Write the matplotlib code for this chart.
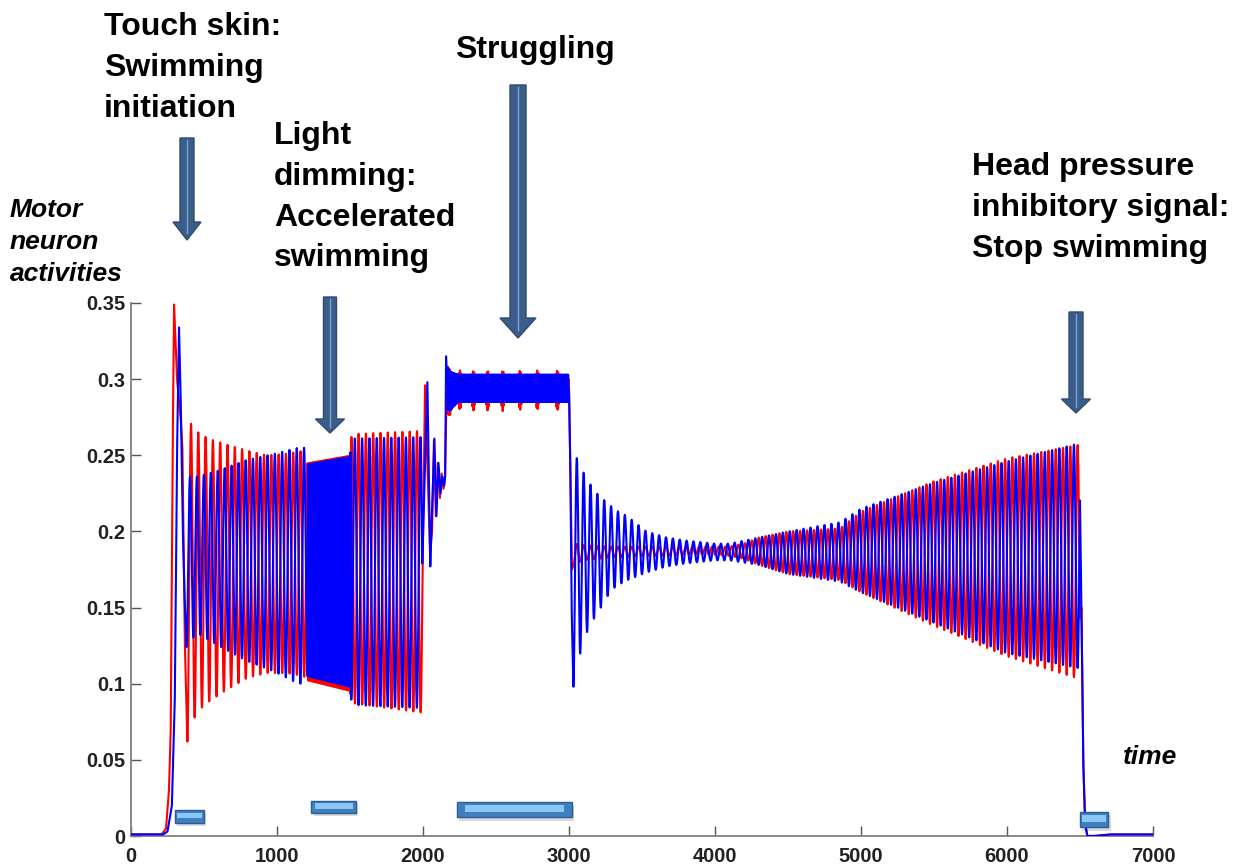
import numpy as np
import matplotlib
matplotlib.use('Agg')
import matplotlib.pyplot as plt
from matplotlib.patches import Polygon, Rectangle

plt.rcParams['font.family'] = ['Liberation Sans', 'DejaVu Sans']

# ---- data ----------------------------------------------------------------
dt = 0.5
t = np.arange(0, 7000 + dt, dt)

# oscillation periods (time units) per series
red_pt = [0, 1207, 1208, 1508, 1509, 2168, 2169, 3002, 3003, 3700, 3701, 4200, 4201, 6500, 7000]
red_pv = [50, 50, 12, 12, 50, 50, 8, 8, 47, 47, 44.9, 44.9, 47, 50, 50]
blue_pt = [0, 760, 761, 1207, 1208, 1508, 1509, 2168, 2169, 3002, 3003, 4200, 6500, 7000]
blue_pv = [47.5, 47.5, 50, 50, 12, 12, 50, 50, 8, 8, 47, 47, 50, 50]

# envelope (upper / lower) of the oscillating parts
red_env_t = [386, 420, 445, 530, 655, 800, 930, 1066, 1180, 1207, 1208, 1500, 1510, 1530, 1995,
             2170, 2185, 2210, 2231, 2253, 2275, 2323, 2345, 2367, 2421, 2443, 2465, 2524, 2546,
             2568, 2642, 2664, 2686, 2761, 2783, 2805, 2898, 2920, 2942, 3000,
             3030, 3100, 3300, 3600, 3900, 4100, 4200, 4300, 4500, 4856, 5000, 5500, 6000, 6500]
red_env_hi = [0.270, 0.271, 0.266, 0.261, 0.257, 0.253, 0.250, 0.251, 0.253, 0.253, 0.245, 0.250, 0.263, 0.264, 0.266,
              0.308, 0.306, 0.300, 0.300, 0.306, 0.300, 0.300, 0.306, 0.300, 0.300, 0.306, 0.300, 0.300, 0.306,
              0.300, 0.300, 0.306, 0.300, 0.300, 0.306, 0.300, 0.300, 0.306, 0.300, 0.300,
              0.192, 0.191, 0.190, 0.190, 0.190, 0.190, 0.192, 0.196, 0.200, 0.202, 0.213, 0.233, 0.248, 0.257]
red_env_lo = [0.062, 0.072, 0.081, 0.088, 0.096, 0.104, 0.107, 0.107, 0.105, 0.103, 0.102, 0.095, 0.088, 0.087, 0.081,
              0.277, 0.276, 0.288, 0.289, 0.279, 0.289, 0.289, 0.279, 0.289, 0.289, 0.279, 0.289, 0.289, 0.279,
              0.289, 0.289, 0.279, 0.289, 0.289, 0.279, 0.289, 0.289, 0.279, 0.289, 0.289,
              0.178, 0.181, 0.183, 0.184, 0.185, 0.184, 0.182, 0.178, 0.172, 0.168, 0.160, 0.138, 0.118, 0.103]

blue_env_t = [380, 404, 457, 600, 792, 981, 1144, 1207, 1208, 1500, 1510, 1530, 1995,
              2170, 2185, 2210, 2240, 3000,
              3030, 3048, 3072, 3098, 3146, 3200, 3260, 3320, 3400, 3530, 3670, 3800, 4000, 4100,
              4300, 4500, 4856, 5000, 5500, 6000, 6500]
blue_env_hi = [0.236, 0.236, 0.236, 0.240, 0.247, 0.251, 0.255, 0.255, 0.244, 0.249, 0.261, 0.261, 0.262,
               0.308, 0.305, 0.304, 0.303, 0.303,
               0.249, 0.249, 0.245, 0.239, 0.231, 0.224, 0.219, 0.214, 0.210, 0.200, 0.196, 0.194, 0.192, 0.192,
               0.196, 0.200, 0.206, 0.215, 0.232, 0.246, 0.258]
blue_env_lo = [0.124, 0.128, 0.133, 0.125, 0.115, 0.108, 0.100, 0.100, 0.105, 0.098, 0.088, 0.086, 0.084,
               0.280, 0.279, 0.282, 0.285, 0.285,
               0.098, 0.110, 0.118, 0.128, 0.139, 0.147, 0.157, 0.164, 0.168, 0.173, 0.177, 0.179, 0.181, 0.181,
               0.178, 0.172, 0.167, 0.160, 0.140, 0.120, 0.110]

# oscillating windows and the phase (in cycles, 0 = peak) at one anchor time
red_windows = [(386, 1995), (2170, 3000), (3030, 6500)]
red_anchors = [(386, 0.5), (2170, 0.5), (3030, 0.5)]
blue_windows = [(380, 1995), (2170, 3000), (3030, 6500)]
blue_anchors = [(404, 0.0), (2170, 0.0), (3030, 0.5)]

# non-oscillating stretches (onset, transitions, offset)
red_tr_t = [0, 210, 240, 260, 272, 285, 295, 315, 340, 352, 368,
            2014, 2035, 2048, 2062, 2075, 2088, 2102, 2116, 2128, 2140, 2150, 2160, 2166,
            3010, 3020, 6510, 6522, 6535, 6550, 6600, 6700, 7000]
red_tr_v = [0.001, 0.001, 0.005, 0.03, 0.07, 0.25, 0.349, 0.30, 0.275, 0.255, 0.13,
            0.296, 0.23, 0.186, 0.20, 0.26, 0.21, 0.245, 0.222, 0.238, 0.228, 0.235, 0.28, 0.308,
            0.24, 0.175, 0.15, 0.05, 0.008, 0.0, 0.0, 0.001, 0.001]
blue_tr_t = [0, 220, 250, 280, 300, 315, 329, 340, 354, 366,
             2030, 2050, 2078, 2092, 2106, 2120, 2132, 2145, 2152, 2158, 2164,
             3008, 3018, 6510, 6522, 6535, 6550, 6600, 6700, 7000]
blue_tr_v = [0.001, 0.001, 0.003, 0.02, 0.09, 0.25, 0.334, 0.29, 0.205, 0.16,
             0.298, 0.177, 0.261, 0.21, 0.245, 0.225, 0.236, 0.23, 0.236, 0.315, 0.30,
             0.25, 0.15, 0.15, 0.05, 0.008, 0.0, 0.0, 0.001, 0.001]

# stimulus bars: start, end, bottom, top (data units)
stim_start = [300, 1236, 2230, 6500]
stim_end = [500, 1539, 3022, 6695]
stim_lo = [0.0087, 0.0152, 0.0124, 0.0060]
stim_hi = [0.0174, 0.0233, 0.0224, 0.0160]

x_ticks = [0, 1000, 2000, 3000, 4000, 5000, 6000, 7000]
y_ticks = [0, 0.05, 0.1, 0.15, 0.2, 0.25, 0.3, 0.35]
y_tick_labels = ['0', '0.05', '0.1', '0.15', '0.2', '0.25', '0.3', '0.35']


def build_trace(pt, pv, env_t, env_hi, env_lo, windows, anchors, tr_t, tr_v):
    period = np.interp(t, pt, pv)
    phase = np.concatenate([[0.0], np.cumsum(dt / period[:-1])])
    hi = np.interp(t, env_t, env_hi)
    lo = np.interp(t, env_t, env_lo)
    y = np.full_like(t, np.nan)
    for (a, b), (ta, fa) in zip(windows, anchors):
        m = (t >= a) & (t <= b)
        off = fa - np.interp(ta, t, phase)
        y[m] = (hi[m] + lo[m]) / 2 + (hi[m] - lo[m]) / 2 * np.cos(2 * np.pi * (phase[m] + off))
    kt = list(tr_t)
    kv = list(tr_v)
    for a, b in windows:
        kt += [a, b]
        kv += [np.interp(a, t, np.nan_to_num(y)), np.interp(b, t, np.nan_to_num(y))]
    order = np.argsort(kt)
    fill = np.interp(t, np.array(kt)[order], np.array(kv)[order])
    return np.where(np.isnan(y), fill, y)


red = build_trace(red_pt, red_pv, red_env_t, red_env_hi, red_env_lo,
                  red_windows, red_anchors, red_tr_t, red_tr_v)
blue = build_trace(blue_pt, blue_pv, blue_env_t, blue_env_hi, blue_env_lo,
                   blue_windows, blue_anchors, blue_tr_t, blue_tr_v)

# ---- figure --------------------------------------------------------------
W, H = 1238, 866
fig = plt.figure(figsize=(W / 100, H / 100), dpi=100)
ax = fig.add_axes([131 / W, 1 - 836 / H, (1153 - 131) / W, (836 - 303) / H])

ax.plot(t, red, color='#ff0000', lw=1.5, zorder=2)
ax.plot(t, blue, color='#0000ff', lw=1.5, zorder=3)

# stimulus bars
for x0, x1, y0, y1 in zip(stim_start, stim_end, stim_lo, stim_hi):
    h = y1 - y0
    ax.add_patch(Rectangle((x0 + 15, y0 - h * 0.25), x1 - x0, h, fc='#000000', alpha=0.15, lw=0, zorder=4))
    ax.add_patch(Rectangle((x0, y0), x1 - x0, h, fc='#3f7fc0', ec='#2b5d94', lw=1, zorder=5))
    inset = (x1 - x0) * 0.07
    ax.add_patch(Rectangle((x0 + inset, y0 + h * 0.35), x1 - x0 - 2 * inset, h * 0.42,
                           fc='#8cc6f2', lw=0, zorder=6))

ax.set_xlim(0, 7000)
ax.set_ylim(0, 0.35)
ax.set_xticks(x_ticks)
ax.set_xticklabels([str(v) for v in x_ticks])
ax.set_yticks(y_ticks)
ax.set_yticklabels(y_tick_labels)
for s in ['top', 'right']:
    ax.spines[s].set_visible(False)
for s in ['left', 'bottom']:
    ax.spines[s].set_color('#808080')
    ax.spines[s].set_linewidth(1.3)
ax.tick_params(direction='in', length=7, width=1, colors='#555555', labelcolor='#222222')
ax.tick_params(axis='x', pad=8)
ax.tick_params(axis='y', pad=4)
for lab in ax.get_xticklabels() + ax.get_yticklabels():
    lab.set_fontsize(14.5)
    lab.set_fontweight('bold')

# overlay in pixel coordinates for arrows and annotations
ov = fig.add_axes([0, 0, 1, 1], zorder=5)
ov.set_xlim(0, W)
ov.set_ylim(H, 0)
ov.axis('off')
ov.patch.set_alpha(0)


def block_arrow(xc, y0, y1, shaft_w, head_w, head_len):
    yb = y1 - head_len
    pts = [(xc - shaft_w / 2, y0), (xc + shaft_w / 2, y0), (xc + shaft_w / 2, yb),
           (xc + head_w / 2, yb), (xc, y1), (xc - head_w / 2, yb), (xc - shaft_w / 2, yb)]
    ov.add_patch(Polygon(pts, closed=True, fc='#3b5d8a', ec='#2e4a70', lw=1))
    ov.plot([xc, xc], [y0 + 2, yb + head_len * 0.6], color='#7aa2d4', lw=1)


block_arrow(187, 138, 240, 14, 28, 18)
block_arrow(330, 297, 433, 13, 29, 14)
block_arrow(518, 85, 338, 16, 36, 20)
block_arrow(1076, 312, 413, 14, 29, 14)

txt = dict(fontsize=23, fontweight='bold', color='black', va='top', ha='left', linespacing=1.47)
ov.text(104, 12, 'Touch skin:\nSwimming\ninitiation', **txt)
ov.text(274, 121, 'Light\ndimming:\nAccelerated\nswimming', **txt)
ov.text(455, 35, 'Struggling', **txt)
ov.text(972, 152, 'Head pressure\ninhibitory signal:\nStop swimming', **txt)
ov.text(10, 198, 'Motor\nneuron\nactivities', fontsize=19, fontweight='bold', style='italic',
        va='top', ha='left', linespacing=1.42)
ov.text(1123, 745, 'time', fontsize=19, fontweight='bold', style='italic', va='top', ha='left')

fig.savefig('out.png', dpi=100)
